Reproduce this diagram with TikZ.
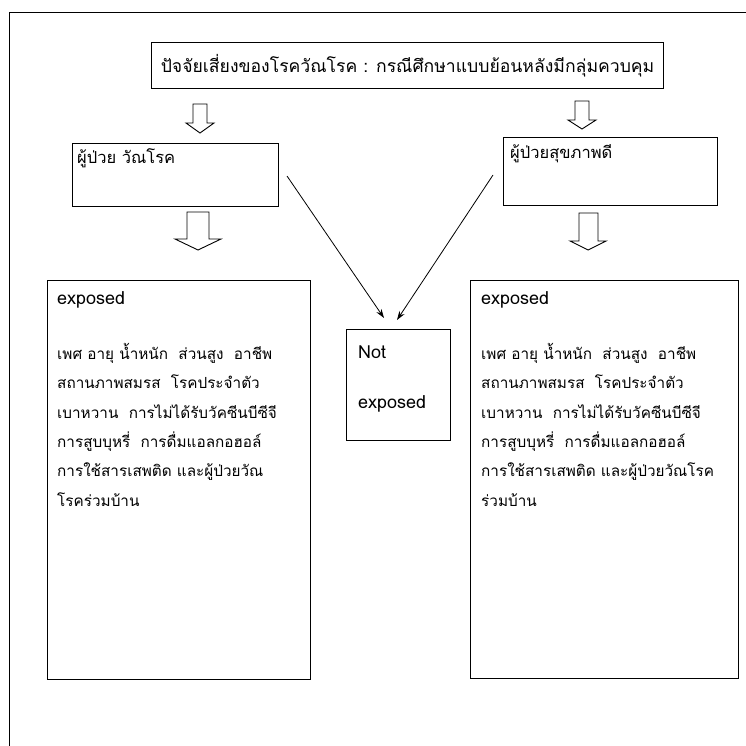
\documentclass[tikz,border=0pt]{standalone}
\usepackage{fontspec}
\newfontfamily\thai[Script=Thai]{Loma}
\usetikzlibrary{arrows.meta}
\begin{document}
\begin{tikzpicture}[x=1pt,y=-1pt,
  box/.style={draw, line width=1.1pt, inner sep=0pt, anchor=north west},
  txt/.style={anchor=base west, inner sep=0pt, font=\thai\fontsize{15.3}{17}\selectfont},
  lat/.style={anchor=base west, inner sep=0pt, font=\thai\fontsize{18}{19}\selectfont},
  head/.style={anchor=base west, inner sep=0pt, font=\thai\fontsize{16.5}{18}\selectfont},
  hollow/.style={draw, line width=0.9pt, fill=white, line join=miter},
  conn/.style={draw, line width=0.8pt, -{Stealth[length=9pt,width=6pt]}}]
\useasboundingbox (0,0) rectangle (746,746);
% outer frame (top and left visible)
\draw[line width=1pt] (9,746) -- (9,13) -- (746,13);
% boxes
\node[box, minimum width=512pt, minimum height=46pt] (title) at (151,42) {};
\node[inner sep=0pt, font=\thai\fontsize{17.6}{19}\selectfont] (titletxt) at (title.center) {ปัจจัยเสี่ยงของโรควัณโรค : กรณีศึกษาแบบย้อนหลังมีกลุ่มควบคุม};
\node[box, minimum width=206pt, minimum height=63pt] (case) at (72,143) {};
\node[head] (casetxt) at (77,164) {ผู้ป่วย วัณโรค};
\node[box, minimum width=214pt, minimum height=68pt] (ctrl) at (503,137) {};
\node[head] (ctrltxt) at (510,159) {ผู้ป่วยสุขภาพดี};
\node[box, minimum width=263pt, minimum height=399pt] (lexp) at (47,280) {};
\node[box, minimum width=268pt, minimum height=398pt] (rexp) at (470,280) {};
\node[box, minimum width=104pt, minimum height=111pt] (notexp) at (346,329) {};
% left big box text
\node[lat] (l0) at (57,304) {exposed};
\node[txt] (l1) at (57,359) {เพศ อายุ น้ำหนัก~~ส่วนสูง~~อาชีพ};
\node[txt] (l2) at (57,388) {สถานภาพสมรส~~โรคประจำตัว};
\node[txt] (l3) at (57,418) {เบาหวาน~~การไม่ได้รับวัคซีนบีซีจี};
\node[txt] (l4) at (57,447) {การสูบบุหรี่~~การดื่มแอลกอฮอล์};
\node[txt] (l5) at (57,476) {การใช้สารเสพติด และผู้ป่วยวัณ};
\node[txt] (l6) at (57,506) {โรคร่วมบ้าน};
% right big box text
\node[lat] (r0) at (481,304) {exposed};
\node[txt] (r1) at (481,359) {เพศ อายุ น้ำหนัก~~ส่วนสูง~~อาชีพ};
\node[txt] (r2) at (481,388) {สถานภาพสมรส~~โรคประจำตัว};
\node[txt] (r3) at (481,418) {เบาหวาน~~การไม่ได้รับวัคซีนบีซีจี};
\node[txt] (r4) at (481,447) {การสูบบุหรี่~~การดื่มแอลกอฮอล์};
\node[txt] (r5) at (481,476) {การใช้สารเสพติด และผู้ป่วยวัณโรค};
\node[txt] (r6) at (481,506) {ร่วมบ้าน};
% not exposed text
\node[lat] (n0) at (358,358) {Not};
\node[lat] (n1) at (358,408) {exposed};
% hollow arrows
\draw[hollow] (193,104) -- (207,104) -- (207,123) -- (214,123) -- (200,133) -- (186,123) -- (193,123) -- cycle;
\draw[hollow] (575,101) -- (589,101) -- (589,120) -- (596,120) -- (582,129) -- (568,120) -- (575,120) -- cycle;
\draw[hollow] (187,212) -- (209,212) -- (209,239) -- (221,239) -- (198,250) -- (175,239) -- (187,239) -- cycle;
\draw[hollow] (579,213) -- (598,213) -- (598,241) -- (606,241) -- (588,250) -- (570,241) -- (579,241) -- cycle;
% connectors
\coordinate (ls) at (287,176);
\coordinate (le) at (384,318);
\coordinate (rs) at (493,175);
\coordinate (re) at (397,320);
\draw[conn] (ls) -- (le);
\draw[conn] (rs) -- (re);
\end{tikzpicture}
\end{document}
